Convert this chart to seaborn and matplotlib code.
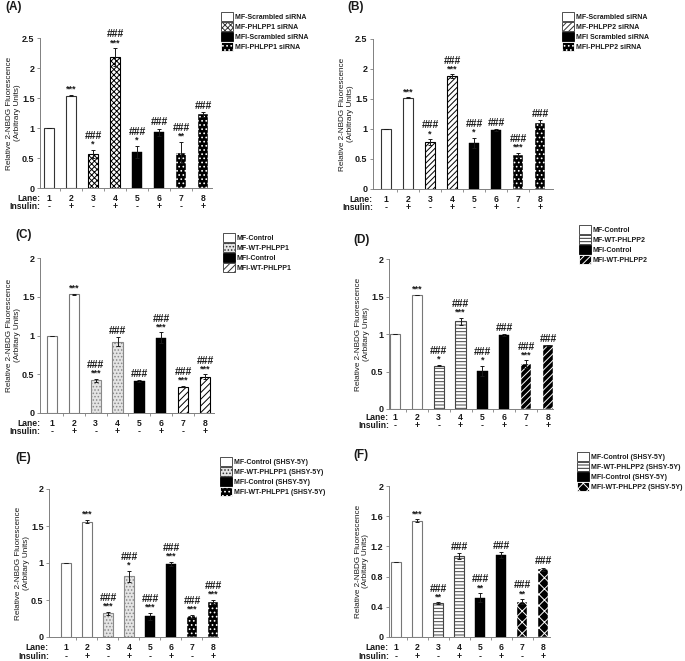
import seaborn as sns
import pandas as pd
import matplotlib.pyplot as plt
import numpy as np
from matplotlib.patches import Patch

lanes = ['1', '2', '3', '4', '5', '6', '7', '8']
insulin = ['-', '+', '-', '+', '-', '+', '-', '+']
ylab = 'Relative 2-NBDG Fluorescence\n(Arbitrary Units)'
ylab_c = 'Relative 2-NBDG Fluorescence\n(Arbitary Units)'

a_vals = [1.00, 1.54, 0.57, 2.18, 0.60, 0.93, 0.59, 1.23]
a_err = [0.005, 0.01, 0.07, 0.15, 0.10, 0.06, 0.18, 0.04]
a_stars = ['', '***', '*', '***', '*', '', '**', '']
a_hash = ['', '', '###', '###', '###', '###', '###', '###']
a_names = ['MF-Scrambled siRNA', 'MF-PHLPP1 siRNA', 'MFI-Scrambled siRNA', 'MFI-PHLPP1 siRNA']

b_vals = [1.00, 1.52, 0.78, 1.88, 0.77, 0.98, 0.57, 1.10]
b_err = [0.0, 0.01, 0.05, 0.03, 0.08, 0.02, 0.03, 0.05]
b_stars = ['', '***', '*', '***', '*', '', '***', '']
b_hash = ['', '', '###', '###', '###', '###', '###', '###']
b_names = ['MF-Scrambled siRNA', 'MF-PHLPP2 siRNA', 'MFI Scrambled siRNA', 'MFI-PHLPP2 siRNA']

c_vals = [1.00, 1.53, 0.42, 0.92, 0.41, 0.97, 0.34, 0.47]
c_err = [0.0, 0.01, 0.02, 0.06, 0.01, 0.07, 0.01, 0.03]
c_stars = ['', '***', '***', '', '', '***', '***', '***']
c_hash = ['', '', '###', '###', '###', '###', '###', '###']
c_names = ['MF-Control', 'MF-WT-PHLPP1', 'MFI-Control', 'MFI-WT-PHLPP1']

d_vals = [1.00, 1.52, 0.58, 1.17, 0.51, 0.99, 0.60, 0.85]
d_err = [0.0, 0.005, 0.01, 0.05, 0.07, 0.01, 0.05, 0.005]
d_stars = ['', '***', '*', '***', '*', '', '***', '']
d_hash = ['', '', '###', '###', '###', '###', '###', '###']
d_names = ['MF-Control', 'MF-WT-PHLPP2', 'MFI-Control', 'MFI-WT-PHLPP2']

e_vals = [1.00, 1.56, 0.32, 0.82, 0.28, 0.99, 0.28, 0.47]
e_err = [0.0, 0.02, 0.02, 0.07, 0.05, 0.03, 0.02, 0.03]
e_stars = ['', '***', '***', '*', '***', '***', '***', '***']
e_hash = ['', '', '###', '###', '###', '###', '###', '###']
e_names = ['MF-Control (SHSY-5Y)', 'MF-WT-PHLPP1 (SHSY-5Y)', 'MFI-Control (SHSY-5Y)', 'MFI-WT-PHLPP1 (SHSY-5Y)']

f_vals = [1.00, 1.54, 0.45, 1.07, 0.52, 1.08, 0.47, 0.90]
f_err = [0.0, 0.02, 0.01, 0.04, 0.06, 0.04, 0.03, 0.02]
f_stars = ['', '***', '**', '', '**', '', '**', '']
f_hash = ['', '', '###', '###', '###', '###', '###', '###']
f_names = ['MF-Control (SHSY-5Y)', 'MF-WT-PHLPP2 (SHSY-5Y)', 'MFI-Control (SHSY-5Y)', 'MFI-WT-PHLPP2 (SHSY-5Y)']

# facecolor, edge/hatch colour, hatch
styles = {
    'white': ('white', '#333333', None),
    'white_g': ('white', '#777777', None),
    'checker': ('white', 'black', 'xxxxxx'),
    'black': ('black', 'black', None),
    'dots': ('black', 'white', '....'),
    'diag': ('white', 'black', '//////'),
    'graydots': ('#e4e4e4', '#8a8a8a', '.....'),
    'stripes': ('white', 'black', '/////'),
    'hlines': ('white', '#444444', '-----'),
    'diagblk': ('black', 'white', '/////'),
    'cross': ('black', 'white', 'xxx'),
}

panels = [
    dict(tag='(A)', vals=a_vals, err=a_err, stars=a_stars, hashes=a_hash, names=a_names,
         pats=['white', 'checker', 'black', 'dots'], ymax=2.5, yticks=[0, 0.5, 1, 1.5, 2, 2.5],
         ylabel=ylab, box=(40, 212, 38, 188), l1=49, l8=203, rows=(11, 19),
         leg=(221, 12), tagxy=(5, 7)),
    dict(tag='(B)', vals=b_vals, err=b_err, stars=b_stars, hashes=b_hash, names=b_names,
         pats=['white', 'diag', 'black', 'dots'], ymax=2.5, yticks=[0, 0.5, 1, 1.5, 2, 2.5],
         ylabel=ylab, box=(373, 553, 39, 189), l1=386, l8=540, rows=(11, 19),
         leg=(562, 12), tagxy=(347, 7)),
    dict(tag='(C)', vals=c_vals, err=c_err, stars=c_stars, hashes=c_hash, names=c_names,
         pats=['white_g', 'graydots', 'black', 'stripes'], ymax=2, yticks=[0, 0.5, 1, 1.5, 2],
         ylabel=ylab_c, box=(40, 214, 258, 413), l1=52, l8=205, rows=(11, 19),
         leg=(223, 233), tagxy=(15, 235)),
    dict(tag='(D)', vals=d_vals, err=d_err, stars=d_stars, hashes=d_hash, names=d_names,
         pats=['white_g', 'hlines', 'black', 'diagblk'], ymax=2, yticks=[0, 0.5, 1, 1.5, 2],
         ylabel=ylab_c, box=(389, 553, 259, 409), l1=395, l8=548, rows=(9, 17),
         leg=(579, 225), tagxy=(353, 240)),
    dict(tag='(E)', vals=e_vals, err=e_err, stars=e_stars, hashes=e_hash, names=e_names,
         pats=['white_g', 'graydots', 'black', 'dots'], ymax=2, yticks=[0, 0.5, 1, 1.5, 2],
         ylabel=ylab_c, box=(49, 218, 489, 637), l1=66, l8=213, rows=(11, 20),
         leg=(220, 457), tagxy=(15, 458)),
    dict(tag='(F)', vals=f_vals, err=f_err, stars=f_stars, hashes=f_hash, names=f_names,
         pats=['white_g', 'hlines', 'black', 'cross'], ymax=2, yticks=[0, 0.4, 0.8, 1.2, 1.6, 2],
         ylabel=ylab_c, box=(389, 550, 486, 637), l1=396, l8=543, rows=(11, 20),
         leg=(577, 452), tagxy=(353, 455)),
]

sns.set_style('ticks')
plt.rcParams['font.family'] = ['Liberation Sans', 'DejaVu Sans']
plt.rcParams['font.weight'] = 'bold'
plt.rcParams['hatch.linewidth'] = 0.7

W, H = 685, 661
fig = plt.figure(figsize=(W / 100, H / 100), dpi=100)
txt = '#1a1a1a'
fs = 6.2

for p in panels:
    left, right, top, bottom = p['box']
    ax = fig.add_axes([left / W, 1 - bottom / H, (right - left) / W, (bottom - top) / H])
    df = pd.DataFrame({'lane': lanes, 'value': p['vals']})
    sns.barplot(data=df, x='lane', y='value', ax=ax, color='white', width=0.47,
                errorbar=None, saturation=1)
    bar_pats = [p['pats'][i // 2] for i in range(8)]
    for patch, name in zip(ax.patches, bar_pats):
        fc, ec, hatch = styles[name]
        patch.set_facecolor(fc)
        patch.set_edgecolor(ec)
        patch.set_linewidth(0.8 if fc != 'black' else 0.3)
        patch.set_hatch(hatch)
    ax.errorbar(range(8), p['vals'], yerr=p['err'], fmt='none', ecolor=txt,
                elinewidth=0.7, capsize=1.6, capthick=0.7)

    step = (p['l8'] - p['l1']) / 7
    ax.set_xlim(-(p['l1'] - left) / step, 7 + (right - p['l8']) / step)
    ax.set_ylim(0, p['ymax'])
    ax.set_yticks(p['yticks'])
    ax.set_yticklabels([f'{t:g}' for t in p['yticks']], fontsize=fs + 0.3, color=txt)
    ax.set_xticks(np.arange(0.5, 7.5, 1))
    ax.set_xticklabels([])
    ax.tick_params(axis='both', length=2, width=0.6, color='#808080', pad=2)
    for s in ['top', 'right']:
        ax.spines[s].set_visible(False)
    for s in ['left', 'bottom']:
        ax.spines[s].set_color('#808080')
        ax.spines[s].set_linewidth(0.7)
    ax.set_xlabel('')
    ax.set_ylabel(p['ylabel'], fontsize=5.9, color=txt, labelpad=1, linespacing=1.1)

    for i in range(8):
        tip = p['vals'][i] + p['err'][i]
        off = 0.8
        if p['stars'][i]:
            ax.annotate(p['stars'][i], (i, tip), xytext=(0, off), textcoords='offset points',
                        ha='center', va='bottom', fontsize=6.5, color=txt)
            off += 5.5
        if p['hashes'][i]:
            ax.annotate(p['hashes'][i], (i, tip), xytext=(0, off), textcoords='offset points',
                        ha='center', va='bottom', fontsize=7.5, color=txt)

    r1, r2 = p['rows'][0] / 1.389, p['rows'][1] / 1.389
    xl = ax.get_xlim()[0]
    for i in range(8):
        ax.annotate(lanes[i], (i, 0), xycoords=('data', 'axes fraction'), xytext=(0, -r1),
                    textcoords='offset points', ha='center', va='center', fontsize=fs, color=txt)
        ax.annotate(insulin[i], (i, 0), xycoords=('data', 'axes fraction'), xytext=(0, -r2),
                    textcoords='offset points', ha='center', va='center', fontsize=fs, color=txt)
    ax.annotate('Lane:', (xl, 0), xycoords=('data', 'axes fraction'), xytext=(0, -r1),
                textcoords='offset points', ha='right', va='center', fontsize=fs, color=txt)
    ax.annotate('Insulin:', (xl, 0), xycoords=('data', 'axes fraction'), xytext=(0, -r2),
                textcoords='offset points', ha='right', va='center', fontsize=fs, color=txt)

    handles = []
    for name in p['pats']:
        fc, ec, hatch = styles[name]
        edge = ec if fc == 'black' else '#333333'
        handles.append(Patch(facecolor=fc, edgecolor=edge, hatch=hatch, linewidth=0.6))
    lx, ly = p['leg']
    fig.legend(handles, p['names'], loc='upper left', bbox_to_anchor=(lx / W, 1 - ly / H),
               frameon=False, fontsize=5.0, handlelength=1.7, handleheight=1.55,
               labelspacing=0.2, handletextpad=0.25, borderaxespad=0, borderpad=0,
               labelcolor=txt)

    tx, ty = p['tagxy']
    fig.text(tx / W, 1 - ty / H, p['tag'], fontsize=8.5, fontweight='bold', color=txt,
             ha='left', va='center')

fig.savefig('out.png', dpi=100)
